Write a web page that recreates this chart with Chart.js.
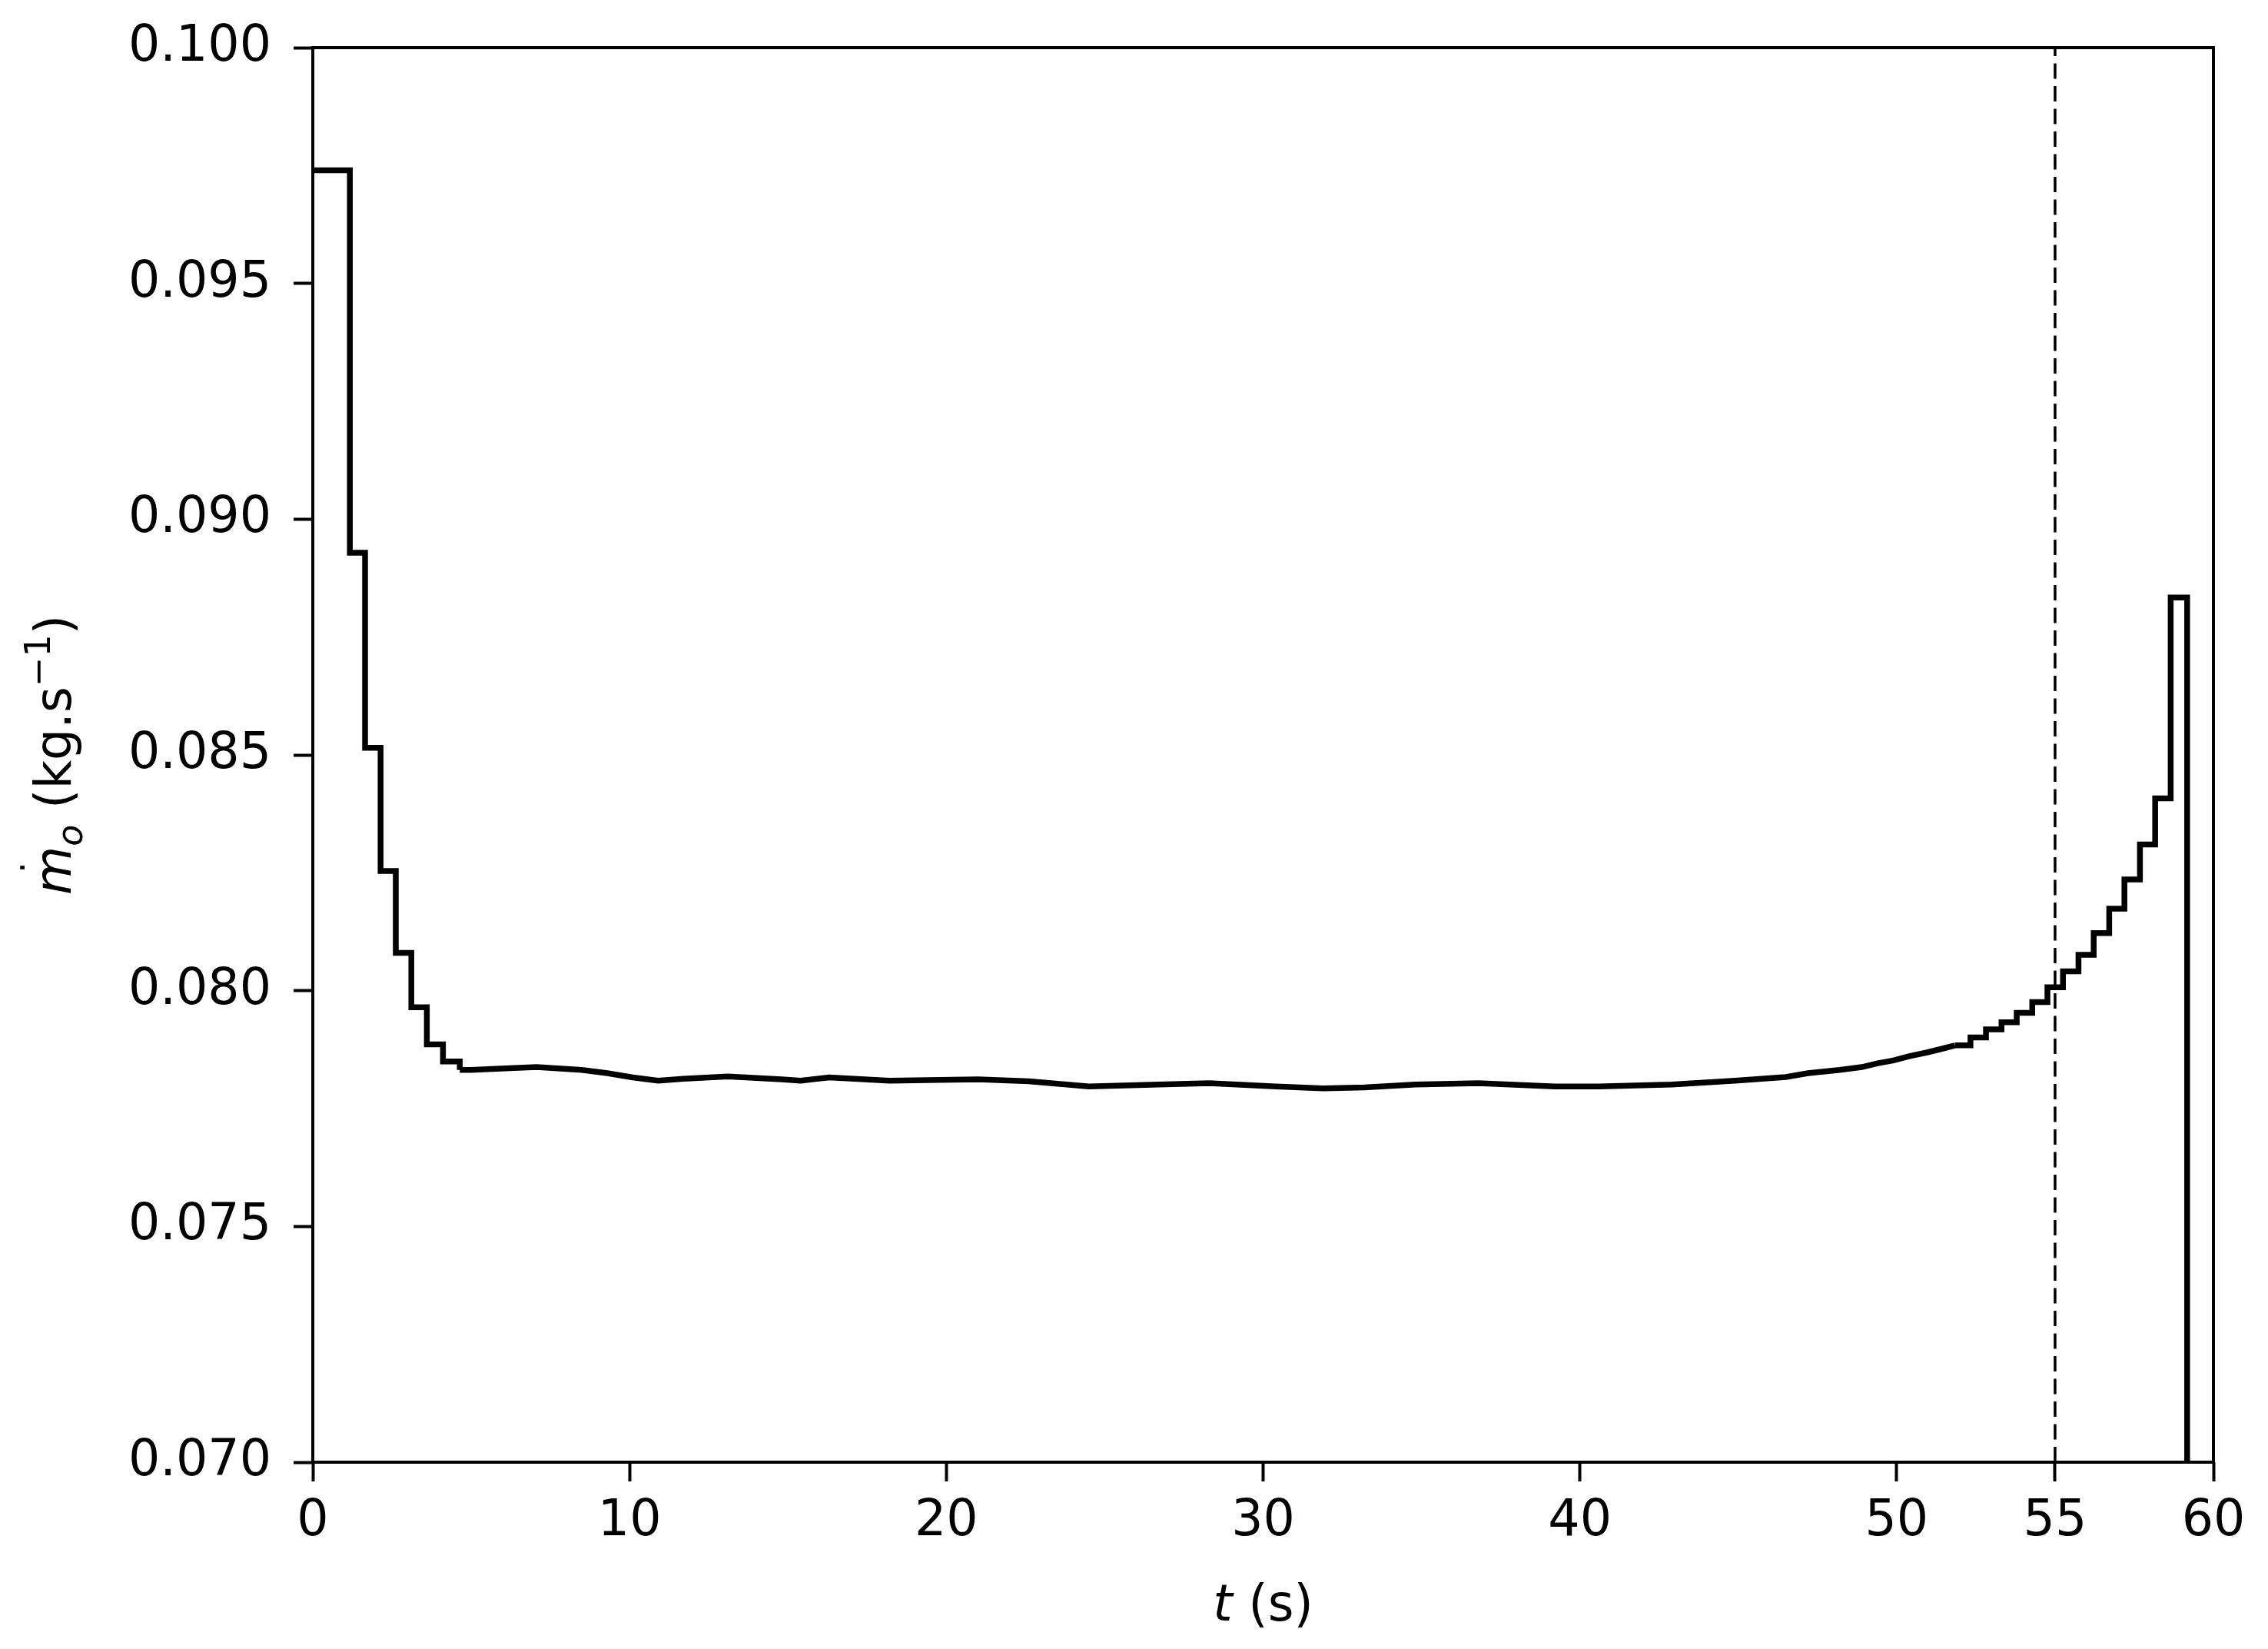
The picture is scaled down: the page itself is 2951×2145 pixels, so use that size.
<!DOCTYPE html>
<html>
<head>
<meta charset="utf-8">
<script src="https://cdn.jsdelivr.net/npm/chart.js@4/dist/chart.umd.min.js"></script>
<style>
  body { margin: 0; background: #fff; }
  canvas { display: block; }
</style>
</head>
<body>
<canvas id="grafico" width="2951" height="2145"></canvas>
<script>
// partida: degraus visiveis (t em s, vazao em kg/s)
const tInicio = [0, 1.17, 1.65, 2.14, 2.62, 3.11, 3.60, 4.11, 4.64];
const mInicio = [0.09740, 0.08929, 0.08515, 0.08254, 0.08080, 0.07965, 0.07886, 0.07850, 0.07832];

// regime: curva quase plana
const tMeio = [4.64, 5.0, 5.65, 7.07, 8.49, 9.3, 10.1, 10.9, 11.7, 13.1, 14.8, 15.4, 16.3, 18.2, 21.0, 22.6, 24.5, 26.7,
  28.3, 30.4, 31.9, 33.2, 34.8, 36.8, 39.2, 40.6, 42.9, 44.9, 46.5, 47.2, 48.2, 48.9, 49.4, 49.9, 50.4, 50.96, 51.5, 51.84];
const mMeio = [0.07832, 0.07832, 0.07834, 0.07838, 0.07832, 0.07825, 0.07816, 0.07809, 0.07813, 0.07818, 0.07812, 0.07809,
  0.07816, 0.07809, 0.07812, 0.07808, 0.07797, 0.07801, 0.07804, 0.07797, 0.07793, 0.07795, 0.07801, 0.07804, 0.07797,
  0.07797, 0.07801, 0.07809, 0.07817, 0.07825, 0.07832, 0.07838, 0.07846, 0.07852, 0.07861, 0.07869, 0.07878, 0.07884];

// fim da queima: degraus subindo e queda
const tFim = [51.84, 52.33, 52.82, 53.31, 53.79, 54.28, 54.76, 55.25, 55.74, 56.22, 56.71, 57.19, 57.68, 58.16, 58.65, 59.17];
const mFim = [0.07884, 0.07901, 0.07918, 0.07933, 0.07953, 0.07976, 0.08007, 0.08041, 0.08076, 0.08122, 0.08174, 0.08236,
  0.08310, 0.08408, 0.08834, 0];

const tCorte = 55;
const xTicks = [0, 10, 20, 30, 40, 50, 55, 60];
const yTicks = [0.070, 0.075, 0.080, 0.085, 0.090, 0.095, 0.100];
const xLim = [0, 60];
const yLim = [0.070, 0.100];

const FONTE = '"DejaVu Sans"';

function pares(ts, ms) {
  return ts.map((t, i) => ({ x: t, y: ms[i] }));
}

function serie(ts, ms, degrau) {
  return {
    data: pares(ts, ms),
    borderColor: "#000",
    borderWidth: 7.5,
    borderJoinStyle: "miter",
    stepped: degrau ? "before" : false,
    pointRadius: 0,
    tension: 0
  };
}

// moldura da area do grafico (as 4 bordas)
const moldura = {
  id: "moldura",
  afterDatasetsDraw(chart) {
    const { ctx, chartArea: a } = chart;
    ctx.save();
    ctx.strokeStyle = "#000";
    ctx.lineWidth = 4;
    ctx.strokeRect(a.left, a.top, a.right - a.left, a.bottom - a.top);
    ctx.restore();
  }
};

// titulos dos eixos com italico / indice / expoente
const rotulos = {
  id: "rotulos",
  afterDraw(chart) {
    const { ctx, chartArea: a } = chart;
    const it = "italic 65px " + FONTE;
    const nr = "65px " + FONTE;
    const itP = "italic 46px " + FONTE;
    const nrP = "46px " + FONTE;
    ctx.save();
    ctx.fillStyle = "#000";
    ctx.textAlign = "left";
    ctx.textBaseline = "alphabetic";

    // eixo x: t (s)
    ctx.font = it;
    const wt = ctx.measureText("t").width;
    ctx.font = nr;
    const ws = ctx.measureText(" (s)").width;
    let x0 = (a.left + a.right) / 2 - (wt + ws) / 2;
    const yb = 2108;
    ctx.font = it;
    ctx.fillText("t", x0, yb);
    ctx.font = nr;
    ctx.fillText(" (s)", x0 + wt, yb);

    // eixo y: m ponto, indice o (kg.s^-1)
    const partes = [
      { txt: "m", f: it, dy: 0 },
      { txt: "o", f: itP, dy: 15 },
      { txt: " (kg.s", f: nr, dy: 0 },
      { txt: "\u22121", f: nrP, dy: -27 },
      { txt: ")", f: nr, dy: 0 }
    ];
    let total = 0;
    partes.forEach(p => { ctx.font = p.f; p.w = ctx.measureText(p.txt).width; total += p.w; });
    ctx.translate(92, (a.top + a.bottom) / 2);
    ctx.rotate(-Math.PI / 2);
    let x = -total / 2;
    partes.forEach((p, i) => {
      ctx.font = p.f;
      ctx.fillText(p.txt, x, p.dy);
      if (i === 0) {
        ctx.font = nrP;
        ctx.textAlign = "center";
        ctx.fillText(".", x + p.w / 2 + 4, -60);
        ctx.textAlign = "left";
      }
      x += p.w;
    });
    ctx.restore();
  }
};

const ctx = document.getElementById("grafico").getContext("2d");
const grafico = new Chart(ctx, {
  type: "line",
  data: {
    datasets: [
      serie(tInicio, mInicio, true),
      serie(tMeio, mMeio, false),
      serie(tFim, mFim, true),
      {
        data: [{ x: tCorte, y: yLim[0] }, { x: tCorte, y: yLim[1] }],
        borderColor: "#000",
        borderWidth: 3.5,
        borderDash: [20, 9.5],
        pointRadius: 0
      }
    ]
  },
  options: {
    responsive: false,
    animation: false,
    devicePixelRatio: 1,
    layout: { padding: { left: 0, right: 71, top: 62, bottom: 0 } },
    plugins: { legend: { display: false }, tooltip: { enabled: false } },
    scales: {
      x: {
        type: "linear",
        min: xLim[0],
        max: xLim[1],
        afterBuildTicks: s => { s.ticks = xTicks.map(v => ({ value: v })); },
        afterFit: s => { s.height = 243; },
        ticks: {
          autoSkip: false,
          maxRotation: 0,
          color: "#000",
          padding: 14,
          font: { family: "DejaVu Sans", size: 65 },
          callback: v => String(v)
        },
        grid: { drawOnChartArea: false, drawTicks: true, tickLength: 25, tickWidth: 4, tickColor: "#000" },
        border: { display: false }
      },
      y: {
        type: "linear",
        min: yLim[0],
        max: yLim[1],
        afterBuildTicks: s => { s.ticks = yTicks.map(v => ({ value: v })); },
        afterFit: s => { s.width = 407; s.paddingTop = 0; s.paddingBottom = 0; },
        ticks: {
          autoSkip: false,
          color: "#000",
          padding: 29,
          font: { family: "DejaVu Sans", size: 65 },
          callback: v => Number(v).toFixed(3)
        },
        grid: { drawOnChartArea: false, drawTicks: true, tickLength: 25, tickWidth: 4, tickColor: "#000" },
        border: { display: false }
      }
    }
  },
  plugins: [moldura, rotulos]
});
</script>
</body>
</html>
